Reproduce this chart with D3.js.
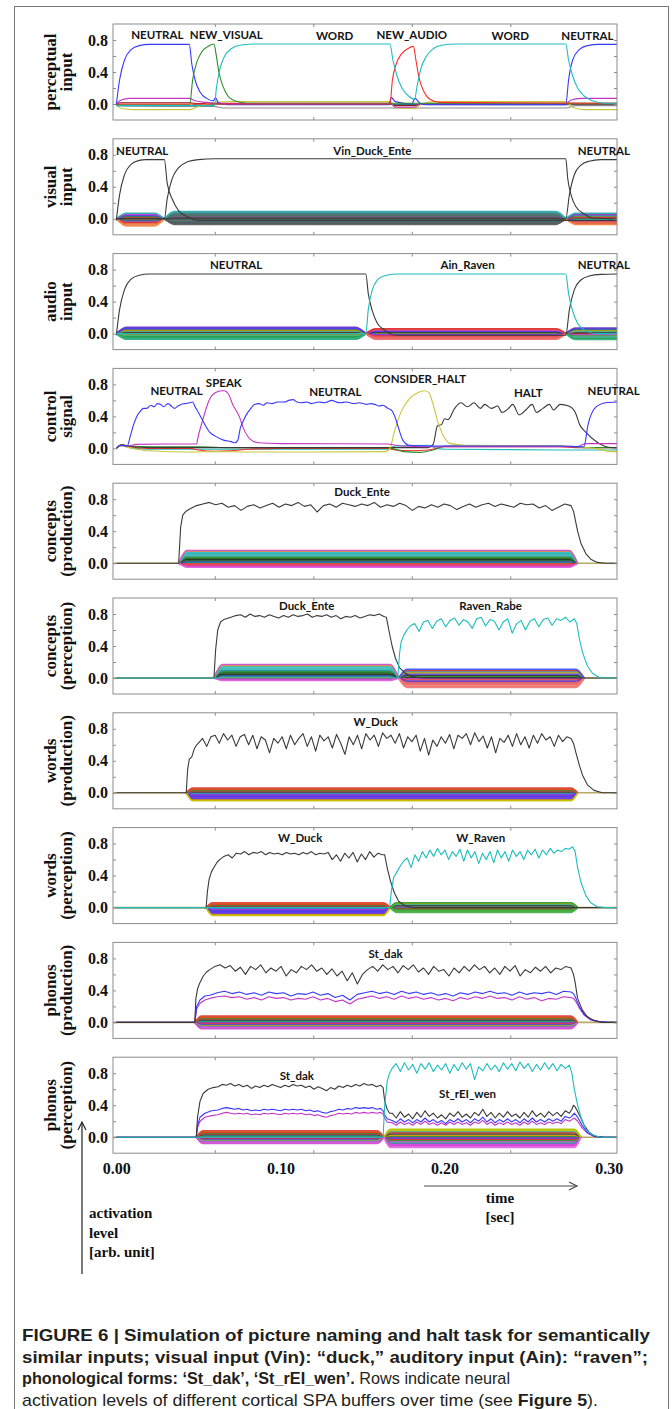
<!DOCTYPE html>
<html>
<head>
<meta charset="utf-8">
<script src="https://cdn.jsdelivr.net/npm/d3@7"></script>
<style>
  body { margin: 0; background: #fff; }
  svg { display: block; }
</style>
</head>
<body>
<svg id="fig" width="672" height="1409"></svg>
<script>
// ---------------------------------------------------------------------------
// Row titles, tick values and state labels
// ---------------------------------------------------------------------------
const rowTitles = [
  ["perceptual", "input"], ["visual", "input"], ["audio", "input"],
  ["control", "signal"], ["concepts", "(production)"], ["concepts", "(perception)"],
  ["words", "(production)"], ["words", "(perception)"], ["phonos", "(production)"],
  ["phonos", "(perception)"]
];
const activationTicks = [0.0, 0.4, 0.8];
const timeTicks = [0.00, 0.10, 0.20, 0.30];
const frameTimeTicks = [0.06, 0.12, 0.18, 0.24];
const frameLevelTicks = [0.0, 0.2, 0.4, 0.6, 0.8];

// [text, time (s), activation level]
const perceptualLabels = [["NEUTRAL", 0.025, 0.87], ["NEW_VISUAL", 0.067, 0.87], ["WORD", 0.133, 0.86],
  ["NEW_AUDIO", 0.180, 0.87], ["WORD", 0.240, 0.86], ["NEUTRAL", 0.287, 0.86]];
const visualLabels = [["NEUTRAL", 0.0158, 0.86], ["Vin_Duck_Ente", 0.156, 0.86], ["NEUTRAL", 0.297, 0.85]];
const audioLabels = [["NEUTRAL", 0.073, 0.86], ["Ain_Raven", 0.214, 0.86], ["NEUTRAL", 0.297, 0.86]];
const controlLabels = [["NEUTRAL", 0.0367, 0.73], ["SPEAK", 0.0655, 0.83], ["NEUTRAL", 0.1334, 0.71],
  ["CONSIDER_HALT", 0.185, 0.88], ["HALT", 0.251, 0.70], ["NEUTRAL", 0.303, 0.73]];
const conceptsProdLabels = [["Duck_Ente", 0.1497, 0.90]];
const conceptsPercLabels = [["Duck_Ente", 0.116, 0.91], ["Raven_Rabe", 0.228, 0.91]];
const wordsProdLabels = [["W_Duck", 0.158, 0.89]];
const wordsPercLabels = [["W_Duck", 0.112, 0.88], ["W_Raven", 0.222, 0.88]];
const phonosProdLabels = [["St_dak", 0.164, 0.86]];
const phonosPercLabels = [["St_dak", 0.110, 0.77], ["St_rEI_wen", 0.214, 0.55]];

// ---------------------------------------------------------------------------
// Activation traces. A trace is a list of pieces: either [time, level] pairs
// or an evenly sampled run {t0, t1, v}.
// ---------------------------------------------------------------------------
// perceptual input
const percNeutral = [[[0,-0.01],[0.002,0.3],[0.005,0.55],[0.009,0.68],[0.014,0.73],[0.02,0.745],[0.0445,0.745],[0.046,0.5],[0.048,0.3],[0.051,0.15],[0.055,0.07],[0.059,0.04],[0.0605,0.08],[0.062,0.02],[0.068,-0.01],[0.166,-0.01],[0.1675,0.08],[0.17,0.03],[0.18,0.0],[0.182,0.07],[0.185,0.01],[0.19,-0.01],[0.2738,-0.01],[0.2755,0.3],[0.278,0.55],[0.282,0.68],[0.287,0.73],[0.294,0.745],[0.305,0.745]]];
const percNewVisual = [[[0,-0.01],[0.0447,-0.01],[0.0465,0.3],[0.049,0.52],[0.052,0.65],[0.056,0.72],[0.0595,0.75],[0.0608,0.62],[0.0625,0.4],[0.065,0.22],[0.068,0.1],[0.072,0.04],[0.08,0.01],[0.305,0.01]]];
const percWord = [[[0,-0.02],[0.0597,-0.02],[0.061,0.2],[0.063,0.43],[0.066,0.6],[0.07,0.69],[0.075,0.735],[0.085,0.75],[0.1667,0.75],[0.1685,0.55],[0.171,0.35],[0.174,0.2],[0.178,0.1],[0.1817,0.06],[0.1832,0.22],[0.1855,0.44],[0.189,0.6],[0.193,0.69],[0.198,0.735],[0.208,0.75],[0.2738,0.75],[0.2755,0.55],[0.278,0.35],[0.281,0.2],[0.285,0.1],[0.29,0.04],[0.297,0.01],[0.305,0.01]]];
const percNewAudio = [[[0,0.0],[0.1667,0.0],[0.1682,0.3],[0.1705,0.5],[0.1735,0.62],[0.1775,0.69],[0.181,0.72],[0.1825,0.55],[0.1845,0.32],[0.1875,0.15],[0.191,0.06],[0.197,0.02],[0.305,0.01]]];
const percMagenta = [[[0,0],[0.003,0.05],[0.008,0.07],[0.0447,0.07],[0.048,0.04],[0.055,0.02],[0.06,0.01],[0.1667,0.01],[0.17,-0.04],[0.1817,-0.04],[0.185,0.0],[0.2738,0.0],[0.277,0.05],[0.283,0.07],[0.305,0.07]]];
const percYellow = [[[0,-0.01],[0.004,-0.06],[0.01,-0.07],[0.0447,-0.07],[0.05,-0.03],[0.06,0.02],[0.07,0.03],[0.1667,0.03],[0.17,-0.05],[0.1817,-0.06],[0.186,0.0],[0.195,0.03],[0.2738,0.03],[0.278,-0.04],[0.285,-0.07],[0.305,-0.07]]];
const percGrey = [[[0,-0.02],[0.0447,-0.03],[0.0597,-0.03],[0.065,-0.05],[0.1667,-0.05],[0.1817,-0.05],[0.2738,-0.05],[0.28,-0.02],[0.305,-0.02]]];
const percDarkRed = [[[0,0],[0.003,0.015],[0.0447,0.015],[0.05,0.005],[0.1667,0.005],[0.17,-0.02],[0.1817,-0.02],[0.186,0.0],[0.305,0.0]]];
const percTeal = [[[0,0],[0.004,-0.02],[0.0447,-0.02],[0.05,0.0],[0.305,-0.01]]];

// visual input
const visNeutralA = [[[0,-0.02],[0.002,0.3],[0.005,0.55],[0.009,0.68],[0.014,0.73],[0.018,0.74],[0.0293,0.74],[0.031,0.45],[0.034,0.25],[0.038,0.1],[0.043,0.03],[0.05,-0.02],[0.305,-0.02]]];
const visDuck = [[[0,0],[0.0293,0],[0.031,0.25],[0.034,0.5],[0.038,0.64],[0.043,0.71],[0.05,0.74],[0.06,0.75],[0.2738,0.75],[0.275,0.5],[0.277,0.3],[0.28,0.15],[0.285,0.06],[0.29,0.01],[0.305,0.0]]];
const visNeutralB = [[[0,0],[0.2738,0],[0.276,0.3],[0.279,0.55],[0.283,0.67],[0.288,0.72],[0.295,0.74],[0.305,0.74]]];

// audio input
const audNeutral = [[[0,-0.02],[0.002,0.3],[0.005,0.55],[0.009,0.68],[0.014,0.73],[0.02,0.745],[0.152,0.745],[0.1535,0.5],[0.156,0.28],[0.159,0.13],[0.163,0.05],[0.17,-0.02],[0.2738,-0.02],[0.276,0.3],[0.279,0.55],[0.283,0.67],[0.288,0.72],[0.295,0.74],[0.305,0.745]]];
const audRaven = [[[0,0],[0.152,0],[0.1535,0.3],[0.156,0.55],[0.159,0.67],[0.163,0.72],[0.17,0.745],[0.2738,0.745],[0.2755,0.5],[0.278,0.28],[0.281,0.13],[0.285,0.05],[0.292,0.0],[0.305,0.0]]];

// control signal
const ctlNeutral = [[[0,0],[0.003,0.04],[0.0067,0.03],[0.0085,0.15],[0.0106,0.3],[0.0125,0.4],[0.0145,0.46],[0.0165,0.5],[0.0185,0.5],[0.021,0.54],[0.023,0.52],[0.025,0.56],[0.027,0.55],[0.029,0.52],[0.0305,0.55],[0.0316,0.56],[0.0335,0.53],[0.0355,0.5],[0.0375,0.53],[0.0395,0.55],[0.042,0.56],[0.0447,0.57],[0.0465,0.58],[0.048,0.52],[0.050,0.45],[0.0539,0.3],[0.057,0.2],[0.0605,0.15],[0.0657,0.1],[0.07,0.085],[0.0723,0.07],[0.074,0.1],[0.0755,0.25],[0.0775,0.35],[0.0801,0.45],[0.082,0.5],[0.0841,0.55],[0.087,0.56],[0.0895,0.54],[0.0919,0.57],[0.095,0.56],[0.098,0.58],[0.1024,0.58],[0.105,0.6],[0.1077,0.61],[0.11,0.58],[0.1129,0.57],[0.116,0.58],[0.119,0.56],[0.1234,0.58],[0.127,0.57],[0.1313,0.6],[0.134,0.58],[0.1365,0.57],[0.14,0.58],[0.1444,0.56],[0.148,0.57],[0.1523,0.55],[0.155,0.56],[0.1575,0.55],[0.16,0.53],[0.1625,0.54],[0.1654,0.5],[0.168,0.47],[0.17,0.38],[0.172,0.25],[0.1746,0.1],[0.1785,0.04],[0.1917,0.03],[0.2704,0.03],[0.2848,0.02],[0.2874,0.3],[0.2914,0.5],[0.2979,0.57],[0.305,0.58]]];
const ctlSpeak = [[[0,0],[0.003,0.04],[0.007,0.03],[0.012,0.05],[0.03,0.055],[0.049,0.055],[0.0494,0.1],[0.0526,0.35],[0.0565,0.6],[0.0605,0.7],[0.0644,0.72],[0.0657,0.72],[0.0683,0.68],[0.0709,0.55],[0.0749,0.4],[0.0775,0.25],[0.0814,0.12],[0.0867,0.07],[0.1,0.06],[0.165,0.055],[0.1733,0.03],[0.19,0.02],[0.28,0.02],[0.2861,0.06],[0.305,0.06]]];
const ctlConsider = [[[0,0],[0.003,0.03],[0.01,0.0],[0.02,-0.03],[0.045,-0.045],[0.06,-0.04],[0.08,-0.045],[0.12,-0.045],[0.164,-0.04],[0.1667,0.0],[0.1693,0.2],[0.1733,0.45],[0.1785,0.62],[0.1838,0.7],[0.1877,0.72],[0.1903,0.7],[0.193,0.55],[0.1956,0.35],[0.1995,0.15],[0.2035,0.06],[0.2126,0.04],[0.27,0.03],[0.2914,0.0],[0.3019,-0.04],[0.305,-0.04]]];
const ctlHalt = [[[0,0],[0.003,0.045],[0.01,0.02],[0.02,0.01],[0.19,0.01],[0.193,0.05],[0.1956,0.28],[0.1982,0.3],[0.2,0.37],[0.2021,0.36],[0.2061,0.5],[0.21,0.57],[0.2139,0.52],[0.2179,0.57],[0.2218,0.5],[0.2244,0.55],[0.2284,0.5],[0.2323,0.53],[0.2349,0.45],[0.2389,0.5],[0.2415,0.55],[0.2454,0.42],[0.2494,0.48],[0.2533,0.55],[0.2559,0.45],[0.2599,0.5],[0.2638,0.55],[0.2664,0.48],[0.2704,0.55],[0.2756,0.53],[0.2796,0.45],[0.2822,0.3],[0.2861,0.2],[0.2927,0.08],[0.3019,0.01],[0.305,0.01]]];
const ctlRed = [[[0,0],[0.003,0.04],[0.008,0.02],[0.02,0.0],[0.045,0.0],[0.05,-0.02],[0.06,-0.035],[0.07,-0.03],[0.08,-0.01],[0.1,0.0],[0.165,0.0],[0.17,-0.02],[0.18,-0.03],[0.19,-0.02],[0.2,0.02],[0.27,0.02],[0.28,0.01],[0.305,0.01]]];
const ctlGreen = [[[0,0],[0.003,0.045],[0.008,0.03],[0.02,0.02],[0.05,0.02],[0.07,0.01],[0.1,0.01],[0.165,0.01],[0.175,-0.04],[0.185,-0.05],[0.193,-0.02],[0.2,0.03],[0.27,0.03],[0.285,0.01],[0.305,0.01]]];
const ctlCyan = [[[0,0],[0.003,0.03],[0.01,0.0],[0.02,-0.01],[0.165,-0.01],[0.17,0.03],[0.19,0.04],[0.195,0.0],[0.2,-0.01],[0.27,-0.02],[0.305,-0.02]]];

// concepts (production)
const cpDuck = [
  [[0,0],[0.038,0],[0.0392,0.45],[0.0405,0.6],[0.0425,0.65]],
  {t0: 0.045, t1: 0.277, v: [0.68,0.72,0.74,0.76,0.73,0.75,0.70,0.72,0.66,0.71,0.73,0.69,0.72,0.75,0.70,0.74,0.72,0.76,0.71,0.73,0.64,0.72,0.74,0.70,0.75,0.73,0.71,0.74,0.72,0.76,0.70,0.73,0.71,0.75,0.72,0.66,0.71,0.69,0.73,0.70,0.74,0.72,0.67,0.71,0.74,0.70,0.73,0.75,0.71,0.74,0.72,0.70,0.75,0.73,0.74,0.69,0.72,0.66,0.70,0.74,0.72]},
  [[0.2785,0.65],[0.2795,0.55],[0.281,0.4],[0.283,0.25],[0.286,0.12],[0.289,0.05],[0.293,0.01],[0.298,0],[0.305,0]]
];

// concepts (perception)
const cqDuck = [
  [[0,0],[0.0595,0],[0.0605,0.35],[0.0618,0.6],[0.0635,0.7],[0.0655,0.73]],
  {t0: 0.067, t1: 0.163, v: [0.74,0.76,0.78,0.79,0.76,0.80,0.77,0.78,0.76,0.79,0.77,0.75,0.78,0.76,0.79,0.77,0.78,0.80,0.76,0.78,0.77,0.79,0.76,0.78,0.74,0.77,0.76,0.78,0.75,0.77,0.79,0.78,0.80,0.77]},
  [[0.1645,0.76],[0.166,0.6],[0.168,0.4],[0.170,0.25],[0.1725,0.13],[0.176,0.06],[0.18,0.02],[0.186,0],[0.305,0]]
];
const cqRaven = [
  [[0,0],[0.1715,0],[0.1725,0.3],[0.1735,0.45],[0.175,0.53],[0.177,0.6]],
  {t0: 0.179, t1: 0.279, v: [0.65,0.68,0.58,0.70,0.72,0.62,0.71,0.74,0.64,0.72,0.75,0.66,0.73,0.70,0.62,0.74,0.76,0.65,0.73,0.71,0.60,0.70,0.74,0.56,0.68,0.72,0.60,0.71,0.74,0.64,0.73,0.75,0.66,0.74,0.72,0.76,0.70,0.74]},
  [[0.2805,0.68],[0.282,0.5],[0.284,0.32],[0.287,0.15],[0.29,0.06],[0.294,0.01],[0.299,0],[0.305,0]]
];

// words (production)
const wpDuck = [
  [[0,0],[0.0426,0],[0.0435,0.3],[0.0445,0.42],[0.046,0.45],[0.0475,0.55],[0.049,0.6]],
  {t0: 0.05, t1: 0.277, v: [0.62,0.68,0.58,0.70,0.72,0.62,0.74,0.66,0.72,0.58,0.70,0.73,0.60,0.72,0.55,0.70,0.66,0.50,0.68,0.62,0.70,0.55,0.72,0.60,0.68,0.74,0.58,0.70,0.52,0.72,0.65,0.70,0.56,0.73,0.62,0.48,0.70,0.60,0.72,0.55,0.74,0.66,0.72,0.58,0.75,0.68,0.72,0.62,0.74,0.56,0.70,0.64,0.72,0.52,0.68,0.47,0.66,0.58,0.70,0.62,0.73,0.55,0.72,0.68,0.74,0.60,0.75,0.64,0.71,0.56,0.70,0.50,0.68,0.63,0.72,0.58,0.74,0.60,0.70,0.56,0.72,0.62,0.74,0.66,0.70,0.58,0.72,0.64,0.70,0.68]},
  [[0.2785,0.62],[0.280,0.5],[0.282,0.35],[0.284,0.22],[0.287,0.1],[0.291,0.03],[0.296,0],[0.305,0]]
];

// words (perception)
const wqDuck = [
  [[0,0],[0.0547,0],[0.0555,0.2],[0.0565,0.35],[0.058,0.45],[0.060,0.52],[0.0615,0.57]],
  {t0: 0.063, t1: 0.162, v: [0.60,0.64,0.66,0.62,0.68,0.67,0.70,0.66,0.69,0.68,0.70,0.66,0.69,0.67,0.68,0.66,0.69,0.67,0.68,0.66,0.69,0.67,0.70,0.66,0.68,0.67,0.69,0.60,0.66,0.58,0.68,0.62,0.69,0.57,0.67,0.60,0.70,0.63,0.68,0.66]},
  [[0.1635,0.66],[0.165,0.5],[0.167,0.33],[0.1695,0.18],[0.172,0.08],[0.176,0.02],[0.181,0],[0.305,0]]
];
const wqRaven = [
  [[0,0],[0.1665,0],[0.1675,0.2],[0.169,0.38],[0.171,0.45],[0.173,0.52]],
  {t0: 0.175, t1: 0.278, v: [0.58,0.62,0.50,0.66,0.58,0.70,0.62,0.72,0.64,0.74,0.66,0.72,0.60,0.70,0.64,0.73,0.58,0.72,0.62,0.70,0.55,0.68,0.60,0.70,0.56,0.72,0.62,0.70,0.58,0.72,0.64,0.70,0.60,0.72,0.66,0.73,0.62,0.72,0.66,0.74,0.68,0.72,0.70,0.74,0.73,0.76]},
  [[0.2795,0.7],[0.281,0.5],[0.283,0.32],[0.286,0.15],[0.289,0.06],[0.293,0.01],[0.298,0],[0.305,0]]
];

// phonos (production)
const ppDak = [
  [[0,0],[0.0478,0],[0.0485,0.3],[0.0495,0.42],[0.051,0.5],[0.053,0.58],[0.055,0.63]],
  {t0: 0.057, t1: 0.277, v: [0.66,0.70,0.72,0.68,0.71,0.64,0.69,0.60,0.70,0.66,0.72,0.62,0.68,0.64,0.70,0.58,0.66,0.62,0.70,0.66,0.72,0.64,0.68,0.60,0.67,0.58,0.64,0.52,0.62,0.48,0.60,0.66,0.70,0.64,0.72,0.66,0.70,0.62,0.71,0.66,0.72,0.63,0.68,0.60,0.70,0.64,0.66,0.58,0.68,0.62,0.70,0.64,0.72,0.66,0.70,0.62,0.68,0.60,0.70,0.64,0.71,0.58,0.66,0.62,0.69,0.64,0.70,0.62,0.68,0.66,0.70,0.68]},
  [[0.2785,0.6],[0.2795,0.5],[0.281,0.3],[0.284,0.15],[0.287,0.07],[0.291,0.02],[0.296,0],[0.305,0]]
];
const ppBlue = [
  [[0,0],[0.0478,0],[0.049,0.2],[0.051,0.28],[0.054,0.33]],
  {t0: 0.057, t1: 0.277, v: [0.34,0.37,0.39,0.36,0.38,0.35,0.37,0.34,0.38,0.36,0.37,0.33,0.36,0.35,0.38,0.34,0.36,0.31,0.34,0.28,0.35,0.37,0.39,0.36,0.38,0.35,0.39,0.36,0.38,0.35,0.37,0.34,0.36,0.33,0.37,0.35,0.38,0.36,0.39,0.36,0.37,0.34,0.38,0.35,0.37,0.36,0.38,0.35,0.39,0.38]},
  [[0.2785,0.36],[0.28,0.3],[0.282,0.2],[0.285,0.1],[0.289,0.04],[0.294,0.01],[0.3,0],[0.305,0]]
];
const ppMagenta = [
  [[0,0],[0.0478,0],[0.049,0.17],[0.051,0.24],[0.054,0.28]],
  {t0: 0.057, t1: 0.277, v: [0.30,0.32,0.33,0.31,0.32,0.29,0.31,0.28,0.32,0.30,0.31,0.28,0.30,0.29,0.32,0.28,0.30,0.26,0.28,0.23,0.29,0.31,0.33,0.30,0.32,0.29,0.33,0.30,0.32,0.29,0.31,0.28,0.30,0.27,0.31,0.29,0.32,0.30,0.33,0.30,0.31,0.28,0.32,0.29,0.31,0.27,0.30,0.29,0.32,0.31]},
  [[0.2785,0.3],[0.28,0.26],[0.282,0.18],[0.285,0.09],[0.289,0.03],[0.294,0.01],[0.3,0],[0.305,0]]
];

// phonos (perception)
const pqDak = [
  [[0,0],[0.0487,0],[0.0495,0.25],[0.051,0.45],[0.053,0.55],[0.056,0.6],[0.059,0.62]],
  {t0: 0.062, t1: 0.161, v: [0.63,0.66,0.65,0.67,0.64,0.66,0.63,0.65,0.61,0.64,0.62,0.65,0.63,0.66,0.64,0.62,0.65,0.63,0.66,0.64,0.65,0.62,0.64,0.60,0.63,0.61,0.58,0.62,0.60,0.64,0.62,0.65,0.63,0.66,0.64,0.67,0.65,0.66,0.63,0.65]},
  [[0.1625,0.62],[0.1635,0.45],[0.165,0.35],[0.1665,0.3]],
  {t0: 0.168, t1: 0.276, v: [0.30,0.24,0.32,0.25,0.29,0.23,0.31,0.25,0.33,0.26,0.30,0.24,0.28,0.23,0.30,0.26,0.32,0.25,0.29,0.24,0.31,0.27,0.35,0.26,0.31,0.24,0.30,0.25,0.32,0.26,0.29,0.24,0.31,0.25,0.33,0.26,0.30,0.25,0.32,0.27,0.31,0.26,0.33,0.30]},
  [[0.2775,0.35],[0.2785,0.4],[0.2795,0.38],[0.282,0.28],[0.285,0.15],[0.288,0.06],[0.292,0.01],[0.297,0],[0.305,0]]
];
const pqBlue = [
  [[0,0],[0.0487,0],[0.0495,0.15],[0.051,0.25],[0.054,0.3],[0.058,0.33]],
  {t0: 0.062, t1: 0.161, v: [0.34,0.36,0.37,0.36,0.35,0.36,0.34,0.35,0.33,0.34,0.33,0.35,0.34,0.35,0.34,0.33,0.35,0.34,0.35,0.34,0.35,0.33,0.34,0.32,0.33,0.31,0.30,0.32,0.33,0.35,0.34,0.36,0.35,0.37,0.36,0.37,0.36,0.37,0.35,0.36]},
  [[0.1625,0.33],[0.1635,0.28],[0.165,0.23]],
  {t0: 0.168, t1: 0.276, v: [0.21,0.18,0.23,0.19,0.22,0.18,0.22,0.19,0.24,0.19,0.22,0.18,0.21,0.17,0.22,0.19,0.23,0.19,0.22,0.18,0.23,0.20,0.25,0.19,0.23,0.18,0.22,0.19,0.23,0.19,0.22,0.18,0.23,0.19,0.24,0.19,0.22,0.19,0.23,0.20,0.23,0.20,0.26,0.24]},
  [[0.2775,0.26],[0.279,0.3],[0.281,0.25],[0.284,0.14],[0.287,0.06],[0.291,0.01],[0.297,0],[0.305,0]]
];
const pqMagenta = [
  [[0,0],[0.0487,0],[0.0495,0.12],[0.051,0.2],[0.054,0.25],[0.058,0.27]],
  {t0: 0.062, t1: 0.161, v: [0.28,0.30,0.31,0.30,0.29,0.30,0.29,0.30,0.28,0.29,0.28,0.30,0.29,0.30,0.29,0.28,0.30,0.29,0.30,0.29,0.30,0.28,0.29,0.27,0.28,0.26,0.25,0.27,0.28,0.30,0.29,0.30,0.29,0.31,0.30,0.31,0.30,0.31,0.30,0.31]},
  [[0.1625,0.29],[0.1635,0.24],[0.165,0.19]],
  {t0: 0.168, t1: 0.276, v: [0.18,0.15,0.19,0.16,0.18,0.15,0.19,0.16,0.20,0.16,0.18,0.15,0.18,0.15,0.19,0.16,0.19,0.16,0.18,0.15,0.19,0.17,0.21,0.16,0.19,0.15,0.18,0.16,0.19,0.16,0.18,0.15,0.19,0.16,0.20,0.16,0.18,0.16,0.19,0.17,0.19,0.17,0.22,0.20]},
  [[0.2775,0.22],[0.279,0.24],[0.281,0.2],[0.284,0.11],[0.287,0.05],[0.291,0.01],[0.297,0],[0.305,0]]
];
const pqRaven = [
  [[0,0],[0.1625,0],[0.1635,0.4],[0.165,0.7],[0.1665,0.8]],
  {t0: 0.168, t1: 0.276, v: [0.86,0.92,0.82,0.93,0.84,0.91,0.80,0.92,0.85,0.93,0.82,0.90,0.84,0.92,0.80,0.91,0.83,0.93,0.85,0.92,0.72,0.88,0.83,0.92,0.84,0.90,0.82,0.93,0.85,0.92,0.83,0.94,0.86,0.92,0.82,0.91,0.84,0.93,0.85,0.92,0.83,0.91,0.86,0.90]},
  [[0.2775,0.8],[0.279,0.6],[0.281,0.4],[0.283,0.25],[0.286,0.1],[0.29,0.03],[0.295,0],[0.305,0]]
];

// ---------------------------------------------------------------------------
// Background dimensions of each buffer: groups of weakly active lines.
// {t0, t1, ramp, levels}
// ---------------------------------------------------------------------------
const visBands = [
  {t0: 0, t1: 0.0293, ramp: 0.006, levels: [0.07,0.055,0.04,0.03,0.02,0.01,0,-0.01,-0.02,-0.03,-0.04,-0.05,-0.065,-0.08,-0.09]},
  {t0: 0.0293, t1: 0.2738, ramp: 0.006, levels: [0.09,0.08,0.07,0.06,0.05,0.04,0.03,0.02,0.01,0.0,-0.01,-0.02,-0.03,-0.04,-0.05,-0.06,-0.07]},
  {t0: 0.2738, t1: 0.33, ramp: 0.006, levels: [0.07,0.06,0.05,0.035,0.02,0.01,0,-0.01,-0.025,-0.04,-0.055,-0.07]}
];
const audBands = [
  {t0: 0, t1: 0.152, ramp: 0.006, levels: [0.08,0.07,0.06,0.05,0.04,0.03,0.02,0.01,0,-0.01,-0.02,-0.03,-0.04,-0.05,-0.06,-0.07]},
  {t0: 0.152, t1: 0.2738, ramp: 0.006, levels: [0.06,0.05,0.04,0.03,0.02,0.01,0,-0.01,-0.02,-0.03,-0.04,-0.05,-0.06,-0.07]},
  {t0: 0.2738, t1: 0.33, ramp: 0.006, levels: [0.07,0.06,0.05,0.04,0.025,0.01,0,-0.015,-0.03,-0.045,-0.06,-0.075]}
];
const cpBands = [
  {t0: 0.038, t1: 0.281, ramp: 0.005, levels: [0.16,0.15,0.135,0.12,0.105,0.09,0.075,0.06,0.045,0.03,0.02,0.01,0,-0.01,-0.025,-0.04,-0.05]}
];
const cqBands = [
  {t0: 0.0595, t1: 0.172, ramp: 0.005, levels: [0.17,0.155,0.14,0.125,0.11,0.095,0.08,0.065,0.05,0.04,0.03,0.02,0.01,0,-0.01,-0.02,-0.03]},
  {t0: 0.172, t1: 0.285, ramp: 0.005, levels: [0.11,0.095,0.08,0.065,0.05,0.035,0.02,0.005,-0.01,-0.025,-0.04,-0.055,-0.07,-0.085,-0.1,-0.11,-0.12]}
];
const wpBands = [
  {t0: 0.0426, t1: 0.281, ramp: 0.004, levels: [0.06,0.05,0.04,0.03,0.02,0.01,0,-0.01,-0.02,-0.03,-0.04,-0.05,-0.06,-0.07,-0.08,-0.09,-0.1]}
];
const wqBands = [
  {t0: 0.0547, t1: 0.1667, ramp: 0.004, levels: [0.06,0.05,0.04,0.03,0.02,0.01,0,-0.01,-0.02,-0.03,-0.04,-0.05,-0.06,-0.07,-0.08,-0.09,-0.1]},
  {t0: 0.1667, t1: 0.281, ramp: 0.004, levels: [0.06,0.05,0.04,0.03,0.02,0.01,0,-0.01,-0.02,-0.03,-0.04,-0.05,-0.06]}
];
const ppBands = [
  {t0: 0.0478, t1: 0.281, ramp: 0.004, levels: [0.08,0.07,0.06,0.05,0.04,0.03,0.02,0.01,0,-0.01,-0.02,-0.03,-0.04,-0.05,-0.06,-0.07,-0.08]}
];
const pqBands = [
  {t0: 0.0487, t1: 0.163, ramp: 0.004, levels: [0.08,0.07,0.06,0.05,0.04,0.03,0.02,0.01,0,-0.01,-0.02,-0.03,-0.04,-0.05,-0.06,-0.07,-0.08]},
  {t0: 0.163, t1: 0.283, ramp: 0.004, levels: [0.1,0.085,0.07,0.055,0.04,0.025,0.01,0,-0.015,-0.03,-0.045,-0.06,-0.075,-0.09,-0.105,-0.12,-0.13]}
];

// ---------------------------------------------------------------------------
// Styling
// ---------------------------------------------------------------------------
const col = {
  b: "#3838ff", g: "#2c8c2c", r: "#ff2a2a", c: "#1dbdbd", m: "#c236c2",
  y: "#c9c63a", k: "#3a3a3a", gray: "#8a8a8a", dr: "#8b1a1a", teal: "#2a7a7a"
};
// colours of the background lines, listed from the top line down
const bandPalettes = {
  visStart: ["#2ab0b0", "#c040c0", "#3a3aff", "#2f8f2f", "#e03030", "#333333", "#2ab0b0", "#c8a000", "#3a3aff", "#2f8f2f", "#c040c0", "#e03030", "#e06030", "#f08040", "#f09050"],
  visMid:   ["#2ab0b0", "#3a9a9a", "#607080", "#3a7a6a", "#6a6a6a", "#2f6f6f", "#7a5a8a", "#4a4a4a", "#e03030", "#202020", "#3a8a8a", "#5a6a5a", "#6a6a6a", "#3a6a6a", "#5a5a6a", "#4a5a5a", "#606060"],
  visEnd:   ["#2ab0b0", "#c040c0", "#3a3aff", "#2f8f2f", "#e03030", "#333333", "#c8a000", "#2ab0b0", "#3a3aff", "#e03030", "#e06030", "#f08040"],
  audStart: ["#6a3ad0", "#3a3aff", "#8a40d0", "#2f8f2f", "#c8a000", "#2ab0b0", "#333333", "#e03030", "#c040c0", "#2f8f2f", "#c8a000", "#2ab0b0", "#2f9f2f", "#20a070", "#30b080", "#30b080"],
  audMid:   ["#e03030", "#e05050", "#c040c0", "#3a3aff", "#333333", "#2f8f2f", "#c8a000", "#3a3aff", "#c040c0", "#e03030", "#e05050", "#f06060", "#f06060", "#f07070"],
  audEnd:   ["#6a3ad0", "#3a3aff", "#2f8f2f", "#c8a000", "#2ab0b0", "#333333", "#e03030", "#c040c0", "#2f8f2f", "#2ab0b0", "#2f9f2f", "#30b080"],
  cool:     ["#d050d0", "#d0a030", "#30c0c0", "#20b0b0", "#40c0c0", "#209090", "#2f8f2f", "#1f6f1f", "#202020", "#2f7f2f", "#3a3aff", "#1a9a9a", "#c8a000", "#e03030", "#e03060", "#d040d0", "#e060e0"],
  reddish:  ["#3a5aff", "#e03030", "#2ab0b0", "#c8a000", "#3a3aff", "#333333", "#2f8f2f", "#1a1a4a", "#c040c0", "#e03030", "#3a3aff", "#e05050", "#e07070", "#f06060", "#f08080", "#f07070", "#f08080"],
  warm:     ["#e04040", "#d07000", "#e03030", "#2f8f2f", "#c04040", "#333333", "#e03030", "#2ab0b0", "#3a3aff", "#c040c0", "#6a3ad0", "#3a3aff", "#8a40d0", "#3a3aff", "#8a40d0", "#c8a000", "#c8c000"],
  warm2:    ["#e04040", "#d07000", "#e03030", "#2f8f2f", "#c04040", "#333333", "#2ab0b0", "#2f8f2f", "#3a3aff", "#c040c0", "#e03030", "#3a3aff", "#c8a000", "#2ab0b0", "#d040d0", "#e060e0", "#d050d0"],
  green:    ["#2f9f2f", "#c8a000", "#2ab0b0", "#333333", "#2f8f2f", "#c040c0", "#3a3aff", "#2f8f2f", "#e03030", "#2f9f2f", "#40b040", "#40b040", "#50b050"],
  pqEnd:    ["#b0c000", "#c8c000", "#2ab0b0", "#e03030", "#333333", "#c8a000", "#2f8f2f", "#c040c0", "#3a3aff", "#e03030", "#2f8f2f", "#c040c0", "#1a9a9a", "#e040e0", "#d040d0", "#e060e0", "#e070e0"]
};

const panels = [
  {title: rowTitles[0], smooth: true, base: false, bands: [], bandStyle: [],
   lines: [[percTeal, "teal"], [percGrey, "gray"], [percDarkRed, "dr"], [percYellow, "y"], [percMagenta, "m"],
           [percNeutral, "b"], [percNewVisual, "g"], [percNewAudio, "r"], [percWord, "c"]],
   labels: perceptualLabels},
  {title: rowTitles[1], smooth: true, base: false, bands: visBands, bandStyle: ["visStart", "visMid", "visEnd"],
   lines: [[visNeutralA, "k"], [visDuck, "k"], [visNeutralB, "k"]], labels: visualLabels},
  {title: rowTitles[2], smooth: true, base: false, bands: audBands, bandStyle: ["audStart", "audMid", "audEnd"],
   lines: [[audNeutral, "k"], [audRaven, "c"]], labels: audioLabels},
  {title: rowTitles[3], smooth: true, base: false, bands: [], bandStyle: [],
   lines: [[ctlCyan, "c"], [ctlRed, "r"], [ctlGreen, "g"], [ctlHalt, "k"], [ctlConsider, "y"], [ctlSpeak, "m"], [ctlNeutral, "b"]],
   labels: controlLabels},
  {title: rowTitles[4], smooth: false, base: true, bands: cpBands, bandStyle: ["cool"],
   lines: [[cpDuck, "k"]], labels: conceptsProdLabels},
  {title: rowTitles[5], smooth: false, base: true, bands: cqBands, bandStyle: ["cool", "reddish"],
   lines: [[cqDuck, "k"], [cqRaven, "c"]], labels: conceptsPercLabels},
  {title: rowTitles[6], smooth: false, base: true, bands: wpBands, bandStyle: ["warm"],
   lines: [[wpDuck, "k"]], labels: wordsProdLabels},
  {title: rowTitles[7], smooth: false, base: true, bands: wqBands, bandStyle: ["warm", "green"],
   lines: [[wqDuck, "k"], [wqRaven, "c"]], labels: wordsPercLabels},
  {title: rowTitles[8], smooth: false, base: true, bands: ppBands, bandStyle: ["warm2"],
   lines: [[ppMagenta, "m"], [ppBlue, "b"], [ppDak, "k"]], labels: phonosProdLabels},
  {title: rowTitles[9], smooth: false, base: true, bands: pqBands, bandStyle: ["warm2", "pqEnd"],
   lines: [[pqMagenta, "m"], [pqBlue, "b"], [pqDak, "k"], [pqRaven, "c"]], labels: phonosPercLabels}
];

// ---------------------------------------------------------------------------
// Layout
// ---------------------------------------------------------------------------
const svg = d3.select("#fig");
const plotLeft = 113, plotRight = 617;
const plotHeight = 96, firstTop = 24, rowStep = 114.8;
const serif = "'Liberation Serif', 'Times New Roman', serif";
const stateFont = "Lato, 'Open Sans', sans-serif";
const captionFont = "'Liberation Sans', Arial, sans-serif";

const x = d3.scaleLinear().domain([-0.002, 0.305]).range([plotLeft, plotRight]);

// Outer figure frame
svg.append("rect")
  .attr("x", 14.5).attr("y", 6.5).attr("width", 654).attr("height", 1430)
  .attr("fill", "none").attr("stroke", "#777").attr("stroke-width", 1);

function expand(pieces) {
  const out = [];
  pieces.forEach(p => {
    if (Array.isArray(p)) p.forEach(q => out.push(q));
    else {
      const n = p.v.length;
      p.v.forEach((v, i) => out.push([p.t0 + (p.t1 - p.t0) * i / (n - 1), v]));
    }
  });
  return out;
}

panels.forEach((p, i) => {
  const top = firstTop + i * rowStep;
  const y = d3.scaleLinear().domain([-0.2, 1.0]).range([top + plotHeight, top]);
  const g = svg.append("g");
  const clipId = "clip" + i;
  svg.append("clipPath").attr("id", clipId)
    .append("rect").attr("x", plotLeft).attr("y", top).attr("width", plotRight - plotLeft).attr("height", plotHeight);

  const line = d3.line().x(d => x(d[0])).y(d => y(d[1]))
    .curve(p.smooth ? d3.curveMonotoneX : d3.curveLinear);
  const bandLine = d3.line().x(d => x(d[0])).y(d => y(d[1])).curve(d3.curveMonotoneX);

  const plot = g.append("g").attr("clip-path", `url(#${clipId})`);

  if (p.base) {
    plot.append("path").attr("d", line([[-0.002, 0], [0.305, 0]]))
      .attr("fill", "none").attr("stroke", "#b9a866").attr("stroke-width", 1.6);
  }

  p.bands.forEach((b, bi) => {
    const pal = bandPalettes[p.bandStyle[bi]];
    // inner lines first so the outer (edge) lines stay visible on top
    const order = b.levels.map((L, li) => li)
      .sort((a, c) => Math.abs(b.levels[a]) - Math.abs(b.levels[c]));
    order.forEach(li => {
      const L = b.levels[li];
      const pts = [[b.t0, 0], [b.t0 + b.ramp, L], [b.t1 - b.ramp, L], [b.t1, 0]];
      plot.append("path").attr("d", bandLine(pts))
        .attr("fill", "none").attr("stroke", pal[li % pal.length])
        .attr("stroke-width", 1.5).attr("stroke-opacity", 0.95);
    });
  });

  p.lines.forEach(([pieces, c]) => {
    plot.append("path").attr("d", line(expand(pieces)))
      .attr("fill", "none").attr("stroke", col[c]).attr("stroke-width", 1.1)
      .attr("stroke-linejoin", "round");
  });

  // frame and inward ticks
  g.append("rect").attr("x", plotLeft).attr("y", top).attr("width", plotRight - plotLeft).attr("height", plotHeight)
    .attr("fill", "none").attr("stroke", "#8c8c8c").attr("stroke-width", 1);
  const tickAttrs = sel => { sel.select(".domain").remove(); sel.selectAll("line").attr("stroke", "#8c8c8c"); sel.selectAll("text").remove(); };
  g.append("g").attr("transform", `translate(0,${top})`)
    .call(d3.axisBottom(x).tickValues(frameTimeTicks).tickSize(3)).call(tickAttrs);
  g.append("g").attr("transform", `translate(0,${top + plotHeight})`)
    .call(d3.axisTop(x).tickValues(frameTimeTicks).tickSize(3)).call(tickAttrs);
  g.append("g").attr("transform", `translate(${plotRight},0)`)
    .call(d3.axisLeft(y).tickValues(frameLevelTicks).tickSize(3)).call(tickAttrs);
  g.append("g").attr("transform", `translate(${plotLeft},0)`)
    .call(d3.axisRight(y).tickValues(frameLevelTicks).tickSize(3)).call(tickAttrs);

  // activation tick labels
  const ya = g.append("g").attr("transform", `translate(${plotLeft},0)`)
    .call(d3.axisLeft(y).tickValues(activationTicks).tickFormat(d3.format(".1f")).tickSize(0).tickPadding(5));
  ya.select(".domain").remove();
  ya.selectAll("text").attr("font-family", serif).attr("font-weight", "bold")
    .attr("font-size", 16).attr("fill", "#111");

  // row title
  const cy = top + plotHeight / 2;
  p.title.forEach((t, k) => {
    g.append("text")
      .attr("transform", `translate(${50 + k * 16.5},${cy}) rotate(-90)`)
      .attr("text-anchor", "middle").attr("dominant-baseline", "central")
      .attr("font-family", serif).attr("font-weight", "bold").attr("font-size", 17)
      .attr("fill", "#111").text(t);
  });

  // state labels
  p.labels.forEach(([t, tx, lv]) => {
    g.append("text").attr("x", x(tx)).attr("y", y(lv))
      .attr("text-anchor", "middle").attr("dominant-baseline", "central")
      .attr("font-family", stateFont).attr("font-weight", "bold").attr("font-size", 11.5)
      .attr("fill", "#151515").text(t);
  });
});

// ---------------------------------------------------------------------------
// Time axis and axis annotations below the last row
// ---------------------------------------------------------------------------
const lastBottom = firstTop + 9 * rowStep + plotHeight;
const xa = svg.append("g").attr("transform", `translate(0,${lastBottom})`)
  .call(d3.axisBottom(x).tickValues(timeTicks).tickFormat(d3.format(".2f")).tickSize(0).tickPadding(9));
xa.select(".domain").remove();
xa.selectAll("text").attr("font-family", serif).attr("font-weight", "bold").attr("font-size", 16).attr("fill", "#111");

const ink = "#4a4a4a";
// time arrow
const ax0 = 424, ax1 = 577, ay = 1186;
svg.append("line").attr("x1", ax0).attr("x2", ax1).attr("y1", ay).attr("y2", ay).attr("stroke", ink).attr("stroke-width", 1.2);
svg.append("path").attr("d", `M${ax1 - 8},${ay - 4}L${ax1},${ay}L${ax1 - 8},${ay + 4}`)
  .attr("fill", "none").attr("stroke", ink).attr("stroke-width", 1.2);
svg.append("text").attr("x", 500).attr("y", 1203).attr("text-anchor", "middle")
  .attr("font-family", serif).attr("font-weight", "bold").attr("font-size", 15).attr("fill", "#111").text("time");
svg.append("text").attr("x", 500).attr("y", 1222).attr("text-anchor", "middle")
  .attr("font-family", serif).attr("font-weight", "bold").attr("font-size", 15).attr("fill", "#111").text("[sec]");

// activation arrow
const vx = 82, vy0 = 1274, vy1 = 1122;
svg.append("line").attr("x1", vx).attr("x2", vx).attr("y1", vy0).attr("y2", vy1).attr("stroke", "#222").attr("stroke-width", 1.2);
svg.append("path").attr("d", `M${vx - 4},${vy1 + 8}L${vx},${vy1}L${vx + 4},${vy1 + 8}`)
  .attr("fill", "none").attr("stroke", "#222").attr("stroke-width", 1.2);
["activation", "level", "[arb. unit]"].forEach((t, k) => {
  svg.append("text").attr("x", 89).attr("y", 1218 + k * 19.5)
    .attr("font-family", serif).attr("font-weight", "bold").attr("font-size", 15).attr("fill", "#111").text(t);
});

// ---------------------------------------------------------------------------
// Caption
// ---------------------------------------------------------------------------
const captionLines = [
  [["FIGURE 6 | Simulation of picture naming and halt task for semantically", true]],
  [["similar inputs; visual input (Vin): \u201cduck,\u201d auditory input (Ain): \u201craven\u201d;", true]],
  [["phonological forms: \u2018St_dak\u2019, \u2018St_rEI_wen\u2019.", true], [" Rows indicate neural", false]],
  [["activation levels of different cortical SPA buffers over time (see ", false], ["Figure 5", true], [").", false]]
];
const captionWidths = [628, 626, 488, 576];
captionLines.forEach((parts, k) => {
  const t = svg.append("text").attr("x", 22).attr("y", 1341 + k * 21.5)
    .attr("font-family", captionFont).attr("font-size", 17).attr("fill", "#231f20")
    .attr("textLength", captionWidths[k]).attr("lengthAdjust", "spacingAndGlyphs");
  parts.forEach(([s, bold]) => t.append("tspan").attr("font-weight", bold ? "bold" : "normal").text(s));
});
</script>
</body>
</html>
